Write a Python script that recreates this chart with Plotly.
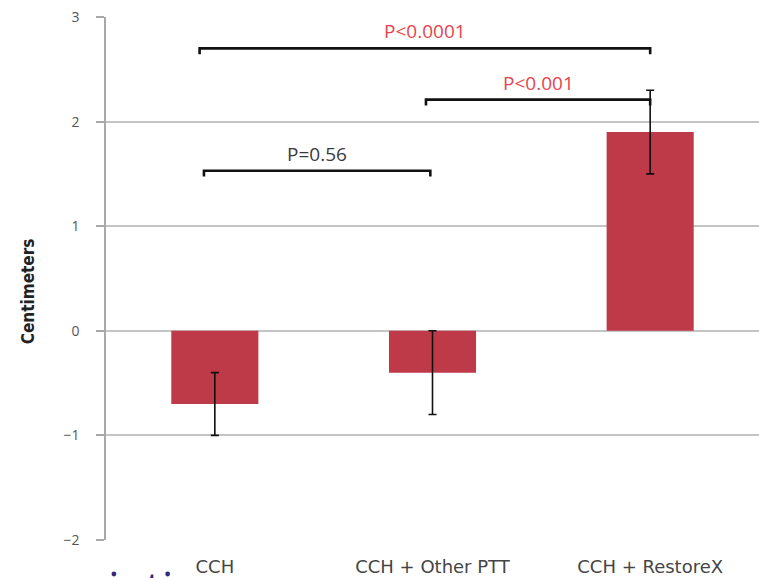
import plotly.graph_objects as go

categories = ["CCH", "CCH + Other PTT", "CCH + RestoreX"]
means = [-0.7, -0.4, 1.9]
errors = [0.3, 0.4, 0.4]
y_ticks = [-2, -1, 0, 1, 2, 3]

bracket_start = [-0.05, 0.97, -0.07]
bracket_end = [0.99, 2.0, 2.0]
bracket_y = [1.53, 2.21, 2.70]
bracket_text = ["P=0.56", "P<0.001", "P<0.0001"]
bracket_color = ["#3a3a3a", "#e8434c", "#e8434c"]

fig = go.Figure()
fig.add_trace(go.Bar(
    x=[0, 1, 2], y=means, width=0.4,
    marker=dict(color="#be3a48", line=dict(width=0)),
    error_y=dict(type="data", array=errors, color="#111111", thickness=1.6, width=4),
))

tick_drop = 0.055
for x0, x1, yv, t, c in zip(bracket_start, bracket_end, bracket_y, bracket_text, bracket_color):
    fig.add_shape(type="path",
                  path=f"M {x0},{yv - tick_drop} L {x0},{yv} L {x1},{yv} L {x1},{yv - tick_drop}",
                  xref="x", yref="y", line=dict(color="#111111", width=2.6))
    fig.add_annotation(x=(x0 + x1) / 2, y=yv, xref="x", yref="y", text=t, showarrow=False,
                       yanchor="bottom", yshift=2, font=dict(size=19, color=c, family="Open Sans"))

fig.add_annotation(x=-0.119, y=0.476, xref="paper", yref="paper", text="<b>Centimeters</b>",
                   textangle=-90, showarrow=False, xanchor="center", yanchor="middle",
                   font=dict(size=17, color="#222222",
                             family="DejaVu Sans Condensed, Liberation Sans Narrow, Roboto, sans-serif"))

fig.add_annotation(x=-0.183, y=-0.026, xref="paper", yref="paper", text="association",
                   showarrow=False, xanchor="left", yanchor="top",
                   font=dict(size=46, color="#2e2a80", family="Open Sans"))

fig.update_layout(
    width=759, height=578,
    margin=dict(l=106, r=0, t=17, b=38),
    plot_bgcolor="white", paper_bgcolor="white",
    showlegend=False,
    xaxis=dict(range=[-0.5, 2.5], tickvals=[0, 1, 2], ticktext=categories,
               showgrid=False, zeroline=False, showline=False, ticks="",
               ticklabelstandoff=14, automargin=False,
               tickfont=dict(size=18, color="#454545", family="DejaVu Sans")),
    yaxis=dict(range=[-2, 3], tickvals=y_ticks, showgrid=True, gridcolor="#c4c4c4", gridwidth=1.5,
               zeroline=False, showline=True, linecolor="#a8a8a8", linewidth=1.5,
               ticks="outside", ticklen=8, tickcolor="#a8a8a8", tickwidth=1.5,
               ticklabelstandoff=14, automargin=False,
               tickfont=dict(size=14, color="#555555", family="Open Sans")),
)
fig.write_html("out.html", config={"displayModeBar": False},
               post_script="document.body.style.margin='0';document.body.style.overflow='hidden';")
